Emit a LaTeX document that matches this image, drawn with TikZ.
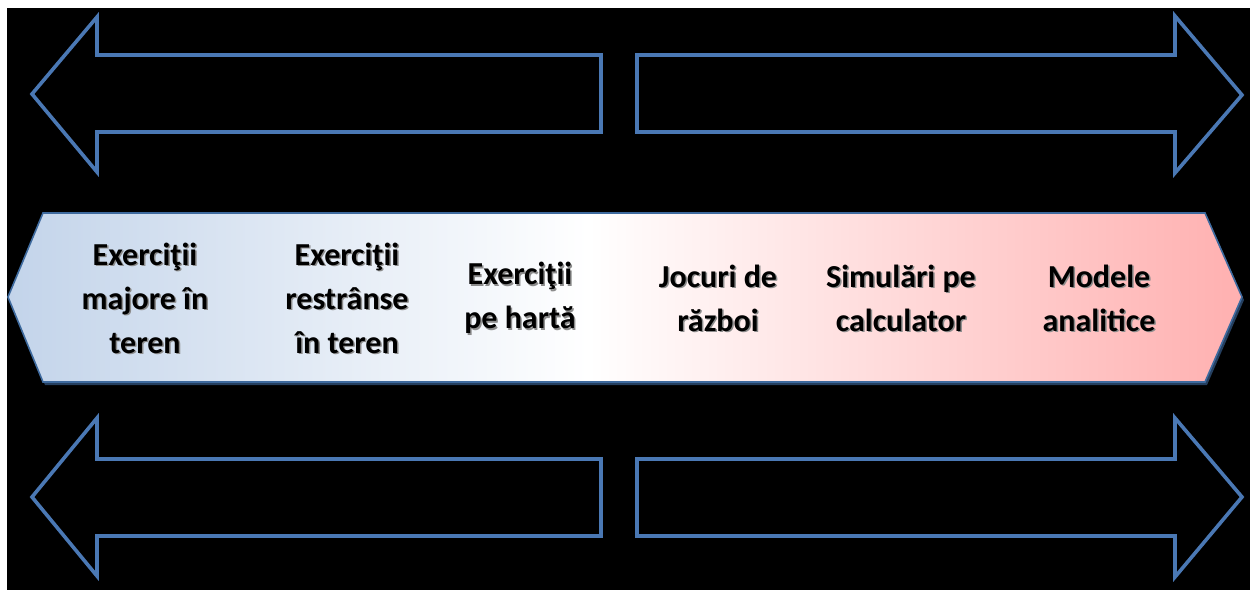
\documentclass[tikz,border=0pt]{standalone}
\usepackage{fontspec}
\setmainfont{Carlito}
\definecolor{arrowblue}{HTML}{4A78B4}
\definecolor{bandblue}{HTML}{C3D4EA}
\definecolor{bandpink}{HTML}{FFB0B0}
\definecolor{bandedge}{HTML}{3E6A9E}
\pgfdeclarehorizontalshading{bandshade}{100bp}{color(0bp)=(bandblue); color(25bp)=(bandblue); color(48.5bp)=(white); color(75bp)=(bandpink); color(100bp)=(bandpink)}
\tikzset{
  outlinearrow/.style={draw=arrowblue, line width=3.6pt, line join=miter},
  label/.style={font=\fontsize{32}{44}\selectfont\bfseries, align=center, text=black, inner sep=0pt},
  labelshadow/.style={font=\fontsize{32}{44}\selectfont\bfseries, align=center, text=black!45, inner sep=0pt},
}
\begin{document}
\begin{tikzpicture}[x=1pt,y=-1pt]
\useasboundingbox (0,0) rectangle (1250,590);
\fill[white] (0,0) rectangle (1250,590);
\fill[black] (7,8) rectangle (1250,590);
% top arrows
\draw[outlinearrow] (601,55) -- (97,55) -- (97,17) -- (32,94) -- (97,172) -- (97,132) -- (601,132) -- cycle;
\draw[outlinearrow] (637,55) -- (1175,55) -- (1175,16) -- (1242,95) -- (1175,173) -- (1175,132) -- (637,132) -- cycle;
% bottom arrows
\draw[outlinearrow] (601,459) -- (97,459) -- (97,418) -- (32,497) -- (97,576) -- (97,536) -- (601,536) -- cycle;
\draw[outlinearrow] (637,459) -- (1175,459) -- (1175,418) -- (1242,497) -- (1175,577) -- (1175,536) -- (637,536) -- cycle;
% band
\fill[bandedge!60!black] (10,300) -- (45,216) -- (1207,216) -- (1244,300) -- (1207,385) -- (45,385) -- cycle;
\shade[shading=bandshade] (8,297) -- (43,213) -- (1205,213) -- (1242,297) -- (1205,382) -- (43,382) -- cycle;
\draw[bandedge, line width=1.6pt] (8,297) -- (43,213) -- (1205,213) -- (1242,297) -- (1205,382) -- (43,382) -- cycle;
% label shadows
\node[labelshadow] (s1) at (146.5,299.5) {Exerciţii\\majore în\\teren};
\node[labelshadow] (s2) at (348.5,299.5) {Exerciţii\\restrânse\\în teren};
\node[labelshadow] (s3) at (521.5,299.5) {Exerciţii\\pe hartă};
\node[labelshadow] (s4) at (719.5,299.5) {Jocuri de\\război};
\node[labelshadow] (s5) at (902.5,299.5) {Simulări pe\\calculator};
\node[labelshadow] (s6) at (1100.5,299.5) {Modele\\analitice};
% labels
\node[label] (l1) at (145,298) {Exerciţii\\majore în\\teren};
\node[label] (l2) at (347,298) {Exerciţii\\restrânse\\în teren};
\node[label] (l3) at (520,298) {Exerciţii\\pe hartă};
\node[label] (l4) at (718,298) {Jocuri de\\război};
\node[label] (l5) at (901,298) {Simulări pe\\calculator};
\node[label] (l6) at (1099,298) {Modele\\analitice};
\end{tikzpicture}
\end{document}
